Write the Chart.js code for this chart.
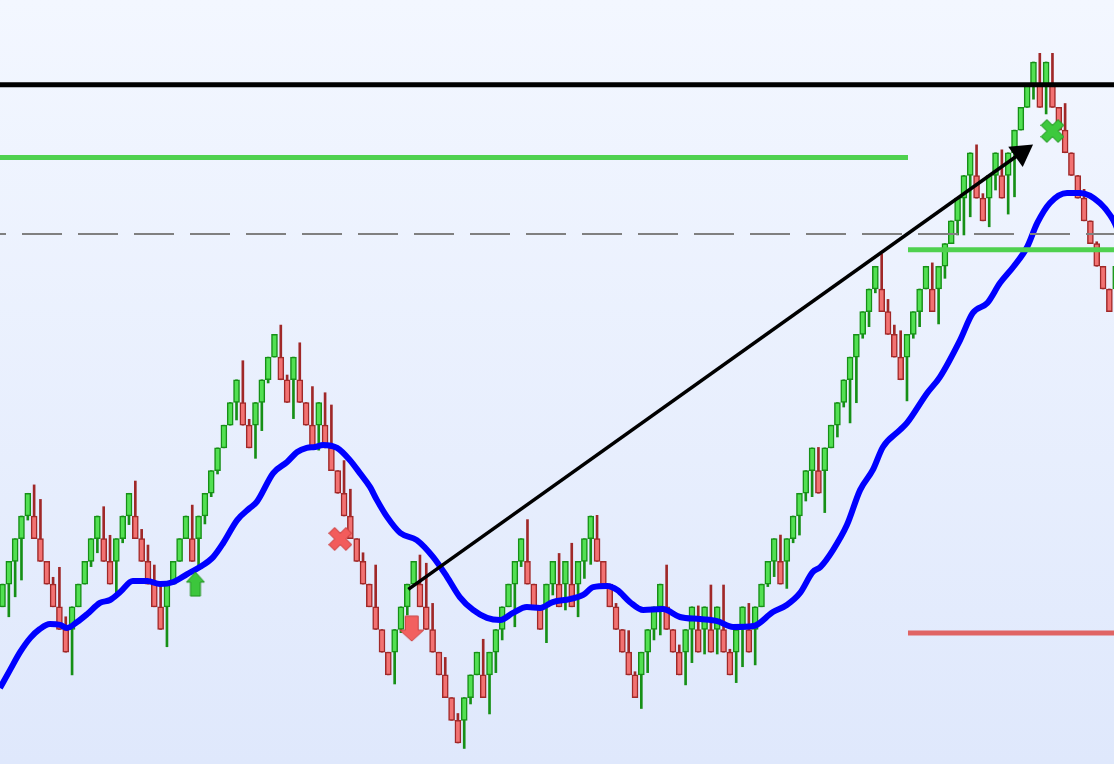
<!DOCTYPE html>
<html>
<head>
<meta charset="utf-8">
<script src="https://cdn.jsdelivr.net/npm/chart.js@4.4.1/dist/chart.umd.min.js"></script>
<style>
  html, body { margin: 0; padding: 0; overflow: hidden; }
  #wrap { width: 1114px; height: 764px; background: linear-gradient(to bottom, #f3f7ff 0%, #dfe8fc 100%); }
  canvas { display: block; }
</style>
</head>
<body>
<div id="wrap"><canvas id="renko" width="1114" height="764"></canvas></div>
<script>
// brick chart, prices in brick units
const opens = [
  6,7,8,9,10,10,9,8,7,6, 5,5,6,7,8,9,9,8,8,9, 10,10,9,8,7,6,6,7,8,9,
  9,9,10,11,12,13,14,15,15,14, 14,15,16,17,17,16,16,16,15,14, 14,14,13,12,11,10,9,8,7,6,
  5,4,4,5,6,7,7,6,5,4, 3,2,1,1,2,3,3,3,4,5, 6,7,8,8,7,6,6,7,7,7,
  7,7,8,9,9,8,7,6,5,4, 3,3,4,5,6,6,5,4,4,5, 5,5,5,5,5,4,4,5,5,5,
  6,7,8,8,8,9,10,11,12,12, 12,13,14,15,16,17,18,19,20,20, 19,18,17,17,18,19,20,20,20,21,
  22,23,24,25,25,24,24,25,25,25, 26,27,28,29,29,29,29,28,27,26, 25,24,23,22,21,20,20
];
const closes = [
  7,8,9,10,11,9,8,7,6,5, 4,6,7,8,9,10,8,7,9,10, 11,9,8,7,6,5,7,8,9,10,
  8,10,11,12,13,14,15,16,14,13, 15,16,17,18,16,15,17,15,14,13, 15,13,12,11,10,9,8,7,6,5,
  4,3,5,6,7,8,6,5,4,3, 2,1,0,2,3,4,2,4,5,6, 7,8,9,7,6,5,7,8,6,8,
  6,8,9,10,8,7,6,5,4,3, 2,4,5,6,7,5,4,3,5,6, 4,6,4,6,4,3,5,6,4,6,
  7,8,9,7,9,10,11,12,13,11, 13,14,15,16,17,18,19,20,21,19, 18,17,16,18,19,20,21,19,21,22,
  23,24,25,26,24,23,25,26,24,26, 27,28,29,30,28,30,28,27,26,25, 24,23,22,21,20,19,21
];
const highs = [
  7,8,9,10,11,11.37,10.73,8,7.3,7.74, 5.56,6,7,8,9,10,10.41,9.15,9,10, 11,11.54,9.41,8.72,7.84,7.03,7,8,9,10,
  10.48,10,11,12,13,14,15,16,16.84,14.26, 15,16,17,18,18.41,16.21,17,17.63,15,15.7, 15,15.43,14.89,12,12.44,11.18,9,8.38,7,7.84,
  5,4,5,6,7,8,8.28,7.92,6.15,4, 3.77,2,1.3,2,3,4,4.57,4,5,6, 7,8,9,9.84,7,6,7,8,8.35,8,
  8.8,8,9,10,10.03,8,7,6.15,5,4.95, 3.14,4,5,6,7,7.84,5,4.32,5,6, 6.04,6,6.96,6,6.96,4.13,5,6,6.15,6,
  7,8,9,9.16,9,10,11,12,13,13.02, 13,14,15,16,17,18,19,20,21,21.54, 19.54,18.41,18.16,18,19,20,21,21.15,21,22,
  23,24,25,26,26.35,24.2,25,26,26.13,26, 27,28,29,30,30.38,30,30.38,28,28.17,26, 25,24.39,23,22.08,21,20,21
];
const lows = [
  6,5.56,6.44,7.18,9.82,9,8,7,6,5, 4,3,6,7,7.77,8.38,8,7,6.6,8.82, 9.62,9,8,7,6,5,4.24,7,8,9,
  8,7.84,9.65,10.85,11.85,13,14,14.23,14,13, 12.54,13.76,15.86,17,16,15,14.29,15,14,13, 12.9,13,12,11,10,9,8,7,6,5,
  4,3,2.6,4.86,5.64,7,6,5,4,3, 2,1,0,-0.24,1.72,3,2,1.28,3.1,4.54, 6,5.12,7.77,7,6,5,4.42,6.52,6,5.86,
  6,5.56,7.25,7.87,8,7,6,5,4,3, 2,1.52,3.1,4.54,4.76,5,4,3,2.56,3.54, 4,3.92,4,3.92,4,3,2.66,3.36,4,3.44,
  6,6.89,7.33,7,6.81,8.82,9.16,10.66,10.85,11, 10.15,13,13.48,14.8,14.1,14.99,17.83,18.34,19.83,19, 18,17,16,15.07,17.83,18.34,20,19,18.46,20.47,
  22,22.38,22.38,23.18,24,23,22.74,24.36,24,23.3, 24.06,27,28,28.36,28,27.71,28,27,26,25, 24,23,22,21,20,19,20
];

// moving average (bar index, price)
const maX = [-0.4,1.2,2.8,4.4,5.9,7.5,9.1,10.2,11.8,13.4,15.4,17.0,18.6,20.6,22.9,24.9,27.0,29.2,31.2,33.3,
  34.9,37.1,39.1,40.2,42.8,45.0,46.6,48.1,49.4,50.7,52.9,54.9,56.5,58.1,59.2,60.8,62.9,65.5,68.1,70.3,
  72.3,74.4,76.6,78.7,80.7,82.9,85.0,87.0,89.7,91.8,93.4,95.6,97.2,99.2,101.3,104.4,107.1,110.3,113.0,115.5,
  118.7,121.8,124.0,126.1,128.1,129.3,131.3,133.5,135.6,137.6,139.2,141.9,143.0,146.2,148.2,151.4,153.4,155.7,157.7,159.8,
  162.0,163.6,165.6,168.3,170.4,173.5,175.6,176.5];
const maY = [2.42,3.22,4.01,4.63,5.02,5.24,5.20,5.07,5.33,5.68,6.17,6.30,6.65,7.14,7.14,7.00,7.09,7.44,7.75,8.19,
  8.81,9.82,10.35,10.62,11.89,12.38,12.82,13.00,13.04,13.13,13.00,12.47,11.89,11.28,10.70,9.96,9.25,8.94,8.19,7.31,
  6.43,5.86,5.51,5.42,5.73,5.99,5.95,6.21,6.34,6.52,6.87,6.92,6.74,6.21,5.86,5.90,5.55,5.46,5.37,5.11,
  5.15,5.77,6.08,6.61,7.53,7.75,8.50,9.60,11.15,12.03,13.04,13.79,14.10,15.42,16.12,17.75,18.94,19.38,20.26,20.97,
  21.85,22.91,23.79,24.23,24.23,23.79,23.04,22.5];

// horizontal levels
const resistance = 29.0;
const upperZone = 25.79;
const dashedLevel = 22.42;
const targetLevel = 21.73;
const stopLevel = 4.85;
const zoneSplit = 143.16;   // bar index where the right-hand levels start

// trend arrow
const arrowFrom = { x: 64.16, y: 6.77 };
const arrowTo = { x: 161.08, y: 26.0 };

// signals
const signalX = [30.5, 53.4, 64.7, 166.0];
const signalY = [7.0, 8.99, 5.04, 26.96];

const xMin = -0.395, xMax = 175.73;
const yMin = -0.925, yMax = 32.73;

const idx = opens.map((o, i) => i);
const up = opens.map((o, i) => closes[i] > o);

function makeArrow(w, h, shaftW, headH, pointUp, fill, stroke) {
  const c = document.createElement('canvas');
  c.width = w + 2; c.height = h + 2;
  const g = c.getContext('2d');
  const cx = c.width / 2;
  let pts = [[cx, 1], [cx + w / 2, 1 + headH], [cx + shaftW / 2, 1 + headH], [cx + shaftW / 2, 1 + h],
    [cx - shaftW / 2, 1 + h], [cx - shaftW / 2, 1 + headH], [cx - w / 2, 1 + headH]];
  if (!pointUp) pts = pts.map(p => [p[0], c.height - p[1]]);
  g.beginPath();
  pts.forEach((p, i) => i ? g.lineTo(p[0], p[1]) : g.moveTo(p[0], p[1]));
  g.closePath();
  g.fillStyle = fill; g.fill();
  g.lineWidth = 1; g.strokeStyle = stroke; g.stroke();
  return c;
}

function makeCross(size, w, fill, stroke) {
  const c = document.createElement('canvas');
  c.width = c.height = size;
  const g = c.getContext('2d');
  g.translate(size / 2, size / 2);
  g.rotate(Math.PI / 4);
  const h = size / 2 * Math.SQRT2 - w - 1;
  const pts = [[-w, -h], [w, -h], [w, -w], [h, -w], [h, w], [w, w], [w, h], [-w, h], [-w, w], [-h, w], [-h, -w], [-w, -w]];
  g.beginPath();
  pts.forEach((p, i) => i ? g.lineTo(p[0], p[1]) : g.moveTo(p[0], p[1]));
  g.closePath();
  g.fillStyle = fill; g.fill();
  g.lineWidth = 1; g.strokeStyle = stroke; g.stroke();
  return c;
}

const signalIcons = [
  makeArrow(18, 24, 10, 10, true, '#3cc63c', '#1e8f1e'),
  makeCross(24, 4, '#f25c5c', '#d04545'),
  makeArrow(24, 25, 13, 11, false, '#f26060', '#c94040'),
  makeCross(24, 4, '#3dc93d', '#2b9e2b')
];

function hline(y, x0, x1, color, width, dash) {
  return {
    type: 'line',
    data: [{ x: x0, y: y }, { x: x1, y: y }],
    borderColor: color,
    borderWidth: width,
    borderDash: dash || [],
    borderDashOffset: dash ? 34 : 0,
    pointRadius: 0
  };
}

window.addEventListener('load', () => {
  const ctx = document.getElementById('renko');

  new Chart(ctx, {
    type: 'bar',
    data: {
      datasets: [
        {
          type: 'line',
          data: signalX.map((x, i) => ({ x: x, y: signalY[i] })),
          showLine: false,
          pointStyle: signalIcons,
          pointRadius: 12
        },
        {
          type: 'line',
          data: [arrowTo],
          showLine: false,
          pointStyle: 'triangle',
          pointRadius: 14.4,
          pointRotation: 54.5,
          pointBackgroundColor: '#000',
          pointBorderWidth: 0
        },
        {
          type: 'line',
          data: [arrowFrom, arrowTo],
          borderColor: '#000',
          borderWidth: 3.5,
          pointRadius: 0
        },
        hline(resistance, xMin, xMax, '#000', 5),
        hline(upperZone, xMin, zoneSplit, '#4fd14f', 5),
        hline(targetLevel, zoneSplit, xMax, '#4fd14f', 5),
        hline(stopLevel, zoneSplit, xMax, '#e06464', 5),
        hline(dashedLevel, xMin, xMax, '#808080', 2, [40, 16]),
        {
          type: 'line',
          data: maX.map((x, i) => ({ x: x, y: maY[i] })),
          borderColor: '#0000ff',
          borderWidth: 6,
          pointRadius: 0,
          cubicInterpolationMode: 'monotone'
        },
        {
          label: 'bodies',
          data: idx.map(i => ({ x: i, y: [opens[i], closes[i]] })),
          backgroundColor: up.map(u => u ? '#52e052' : '#f27272'),
          borderColor: up.map(u => u ? '#169016' : '#a02828'),
          borderWidth: 1.5,
          borderSkipped: false,
          barThickness: 6,
          grouped: false
        },
        {
          label: 'wicks',
          data: idx.map(i => ({ x: i, y: [lows[i], highs[i]] })),
          backgroundColor: up.map(u => u ? '#169016' : '#a02828'),
          borderWidth: 0,
          barThickness: 2,
          grouped: false
        }
      ]
    },
    options: {
      responsive: false,
      animation: false,
      events: [],
      layout: { padding: 0, autoPadding: false },
      scales: {
        x: { type: 'linear', min: xMin, max: xMax, display: false, offset: false },
        y: { type: 'linear', min: yMin, max: yMax, display: false }
      },
      plugins: {
        legend: { display: false },
        tooltip: { enabled: false }
      }
    }
  });
});
</script>
</body>
</html>
